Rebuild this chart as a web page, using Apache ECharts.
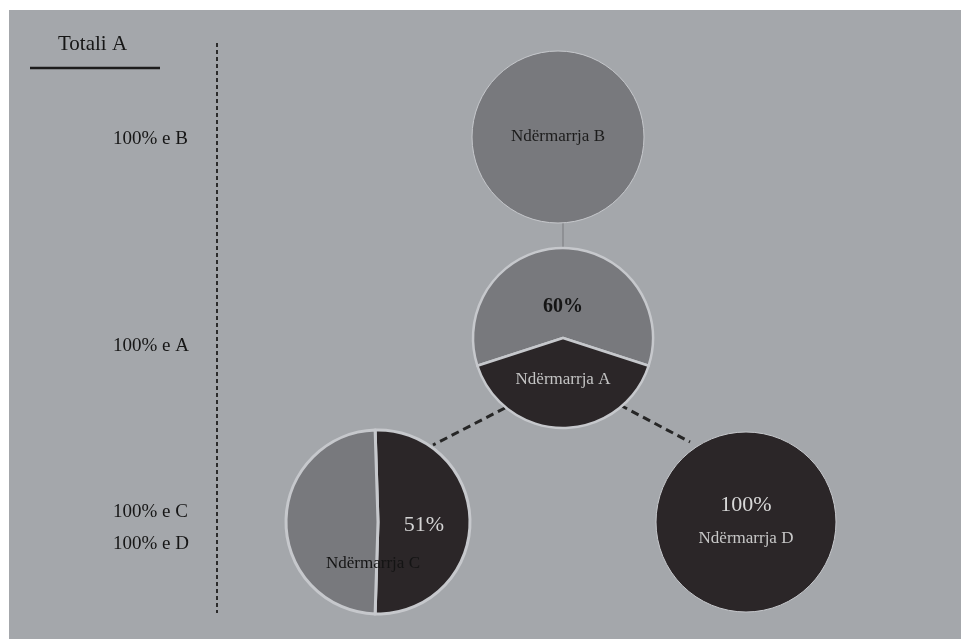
<!DOCTYPE html>
<html>
<head>
<meta charset="utf-8">
<script src="https://cdn.jsdelivr.net/npm/echarts@6/dist/echarts.min.js"></script>
<style>
  html, body { margin: 0; padding: 0; background: #ffffff; }
  #chart { width: 961px; height: 639px; }
</style>
</head>
<body>
<div id="chart"></div>
<script>
// ---- data ----
const totalLabel = 'Totali A';
const levelLabels = ['100% e B', '100% e A', '100% e C', '100% e D'];
const companies = ['Ndërmarrja B', 'Ndërmarrja A', 'Ndërmarrja C', 'Ndërmarrja D'];
const shareB = [100];          // single full circle
const shareA = [60, 40];       // 60% (grey) / remaining (dark)
const shareC = [51, 49];       // 51% (dark) / remaining (grey)
const shareD = [100];          // single full circle

// ---- styles ----
const FONT = '"Liberation Serif", "DejaVu Serif", serif';
const BG = '#a4a7ab';
const GREY = '#78797d';
const DARK = '#2b2628';
const SEP = '#c6c8cc';

const chart = echarts.init(document.getElementById('chart'));

const pct = v => v + '%';
const levelText = (i, top) => ({
  type: 'text', z: 5, left: 113, top: top,
  style: { text: levelLabels[i], font: '19px ' + FONT, fill: '#161616' }
});

const option = {
  backgroundColor: '#ffffff',
  animation: false,
  graphic: [
    { type: 'rect', z: -10, silent: true,
      shape: { x: 9, y: 10, width: 961, height: 639 },
      style: { fill: BG } },
    // title and underline
    { type: 'text', z: 5, left: 58, top: 34,
      style: { text: totalLabel, font: '21px ' + FONT, fill: '#161616' } },
    { type: 'line', z: 5, shape: { x1: 30, y1: 68, x2: 160, y2: 68 },
      style: { stroke: '#1c1c1c', lineWidth: 2.5 } },
    // vertical dashed divider
    { type: 'line', z: 5, shape: { x1: 217, y1: 43, x2: 217, y2: 613 },
      style: { stroke: '#2c2c2c', lineWidth: 2, lineDash: [4, 3] } },
    // level labels
    levelText(0, 130),
    levelText(1, 337),
    levelText(2, 503),
    levelText(3, 535),
    // connectors
    { type: 'line', z: 1, shape: { x1: 563, y1: 220, x2: 563, y2: 250 },
      style: { stroke: '#8e9094', lineWidth: 2 } },
    { type: 'line', z: 1, shape: { x1: 505, y1: 408, x2: 433, y2: 445 },
      style: { stroke: '#262626', lineWidth: 3, lineDash: [8, 5] } },
    { type: 'line', z: 1, shape: { x1: 620, y1: 405, x2: 690, y2: 442 },
      style: { stroke: '#262626', lineWidth: 3, lineDash: [8, 5] } }
  ],
  series: [
    // Ndërmarrja B
    {
      type: 'pie', silent: true, center: [558, 137], radius: [0, 86],
      startAngle: 90, emphasis: { disabled: true },
      itemStyle: { borderColor: SEP, borderWidth: 1 },
      label: { position: 'center', fontFamily: FONT, fontSize: 17, color: '#1c1c1c' },
      data: [{ value: shareB[0], name: companies[0], itemStyle: { color: GREY } }]
    },
    // Ndërmarrja A
    {
      type: 'pie', silent: true, center: [563, 338], radius: [0, 90],
      startAngle: 90 + shareA[0] * 1.8, clockwise: true, emphasis: { disabled: true },
      itemStyle: { borderColor: SEP, borderWidth: 2.5 },
      label: { position: 'inner', fontFamily: FONT },
      labelLine: { show: false },
      labelLayout: p => (p.dataIndex === 0 ? { dy: 17 } : { dy: -6 }),
      data: [
        { value: shareA[0], name: 'share', itemStyle: { color: GREY },
          label: { formatter: p => pct(p.value), fontSize: 20, fontWeight: 'bold',
                   color: '#151515' } },
        { value: shareA[1], name: companies[1], itemStyle: { color: DARK },
          label: { formatter: p => p.name, fontSize: 17, color: '#c4c4c4' } }
      ]
    },
    // Ndërmarrja C
    {
      type: 'pie', silent: true, center: [378, 522], radius: [0, 92],
      startAngle: 90 + (shareC[0] - 50) * 1.8, clockwise: true, emphasis: { disabled: true },
      itemStyle: { borderColor: SEP, borderWidth: 3 },
      label: { position: 'inner', fontFamily: FONT },
      labelLine: { show: false },
      labelLayout: p => (p.dataIndex === 0 ? { dx: -3, dy: 3 } : { dx: 44, dy: 42 }),
      data: [
        { value: shareC[0], name: 'share', itemStyle: { color: DARK },
          label: { formatter: p => pct(p.value), fontSize: 22, color: '#d4d4d4' } },
        { value: shareC[1], name: companies[2], itemStyle: { color: GREY },
          label: { formatter: p => p.name, fontSize: 17, color: '#141414' } }
      ]
    },
    // Ndërmarrja D
    {
      type: 'pie', silent: true, center: [746, 522], radius: [0, 90],
      startAngle: 90, emphasis: { disabled: true },
      itemStyle: { borderColor: SEP, borderWidth: 1 },
      label: {
        position: 'center',
        formatter: p => '{p|' + pct(p.value) + '}\n{n|' + p.name + '}',
        rich: {
          p: { fontFamily: FONT, fontSize: 22, color: '#d8d8d8', lineHeight: 33 },
          n: { fontFamily: FONT, fontSize: 17, color: '#c8c8c8', lineHeight: 33 }
        }
      },
      data: [{ value: shareD[0], name: companies[3], itemStyle: { color: DARK } }]
    }
  ]
};

chart.setOption(option);
</script>
</body>
</html>
